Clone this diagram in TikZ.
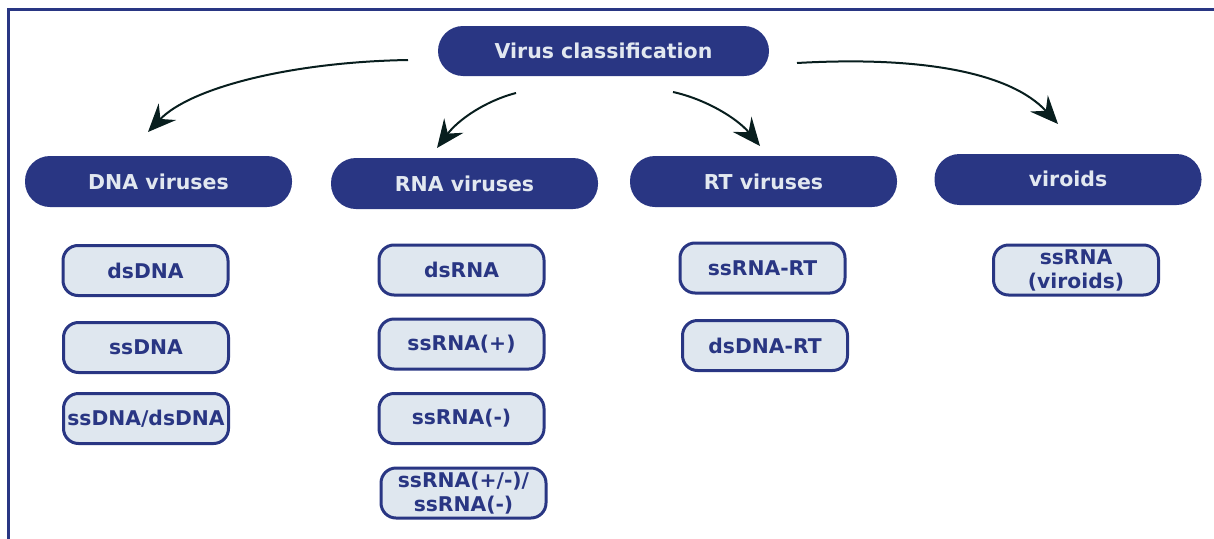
\documentclass[tikz,border=0pt]{standalone}
\usepackage{fontspec}
\setmainfont{DejaVu Sans}
\usetikzlibrary{arrows.meta}
\definecolor{navy}{RGB}{41,54,131}
\definecolor{lightfill}{RGB}{223,231,239}
\definecolor{headtext}{RGB}{226,232,240}
\definecolor{arrowcol}{RGB}{8,30,30}
\tikzset{
  headbox/.style={draw=none, fill=navy, rounded corners=25pt, minimum width=267pt, minimum height=51pt, inner sep=0pt,
    text=headtext, font=\fontsize{20.5}{24}\selectfont\bfseries},
  subbox/.style={draw=navy, line width=3pt, fill=lightfill, rounded corners=15pt, minimum width=165pt, minimum height=50pt, inner sep=0pt,
    text=navy, align=center, font=\fontsize{20.3}{24}\selectfont\bfseries},
  conn/.style={draw=arrowcol, line width=2pt, -{Stealth[length=28pt,width=24pt,inset=10pt]}},
}
\begin{document}
\begin{tikzpicture}[x=1pt,y=-1pt]
\useasboundingbox (0,0) rectangle (1214,538);
\draw[navy, line width=3pt] (8,545) -- (8,9) -- (1220,9);

\node[headbox, minimum width=331pt, minimum height=50pt] (root) at (603.5,51) {Virus classification};
\node[headbox] (dna) at (158.5,181.5) {DNA viruses};
\node[headbox] (rna) at (464.5,183.5) {RNA viruses};
\node[headbox] (rt) at (763.5,181.5) {RT viruses};
\node[headbox] (vir) at (1068,179.5) {\raisebox{2pt}{viroids}};

\node[subbox] (dsdna) at (145.5,270.5) {dsDNA};
\node[subbox] (ssdna) at (146,347.5) {ssDNA};
\node[subbox] (ssds) at (146,418.5) {ssDNA/dsDNA};

\node[subbox] (dsrna) at (461.5,270) {dsRNA};
\node[subbox] (ssrnap) at (461.5,344) {ssRNA(+)};
\node[subbox] (ssrnam) at (461.5,418.5) {ssRNA(-)};
\node[subbox] (ssrnapm) at (463.5,493) {ssRNA(+/-)/\\ssRNA(-)};

\node[subbox] (ssrnart) at (762.5,268) {ssRNA-RT};
\node[subbox] (dsdnart) at (765,345.5) {dsDNA-RT};

\node[subbox] (ssrnav) at (1076,270) {ssRNA\\(viroids)};

\coordinate (s1) at (408,60);
\coordinate (e1) at (148,132);
\coordinate (s2) at (516,93);
\coordinate (e2) at (437,148);
\coordinate (s3) at (673,92);
\coordinate (e3) at (760,146);
\coordinate (s4) at (797,63);
\coordinate (e4) at (1058,124);

\draw[conn] (s1) .. controls (290,62) and (190,88) .. (e1);
\draw[conn] (s2) .. controls (485,101) and (458,120) .. (e2);
\draw[conn] (s3) .. controls (705,99) and (737,118) .. (e3);
\draw[conn] (s4) .. controls (920,56) and (1010,72) .. (e4);
\end{tikzpicture}
\end{document}
